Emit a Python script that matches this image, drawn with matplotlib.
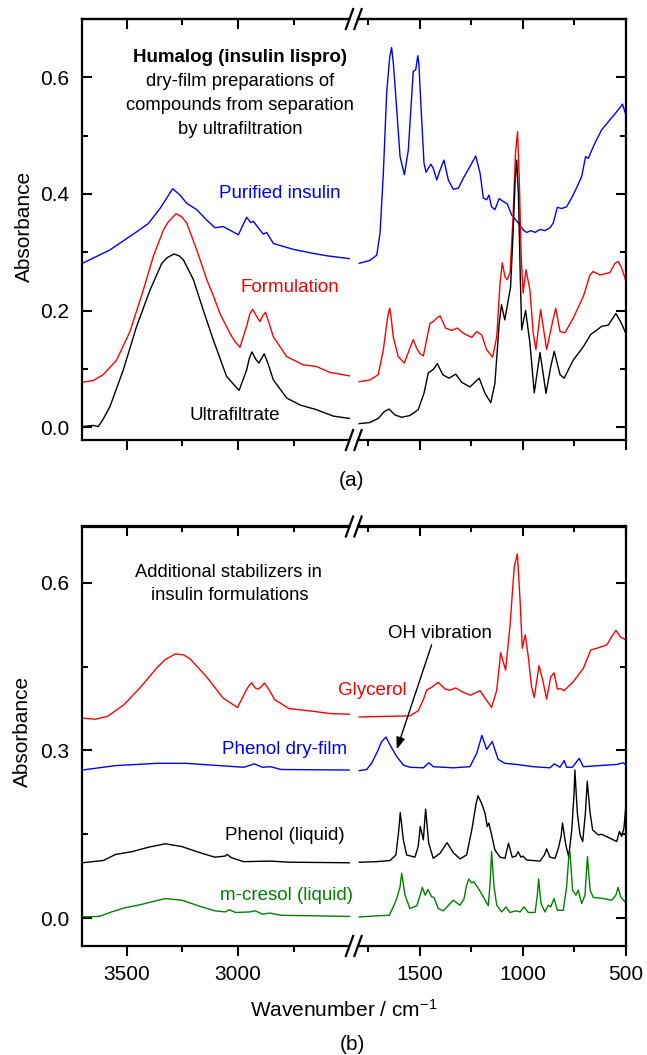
import matplotlib
matplotlib.use("Agg")
import matplotlib.pyplot as plt
from matplotlib.lines import Line2D
from matplotlib.ticker import FixedLocator, FormatStrFormatter, NullFormatter

plt.rcParams['font.family'] = ['Liberation Sans', 'DejaVu Sans']
plt.rcParams['mathtext.fontset'] = 'custom'
plt.rcParams['mathtext.rm'] = 'Liberation Sans'
plt.rcParams['mathtext.it'] = 'Liberation Sans:italic'
plt.rcParams['mathtext.bf'] = 'Liberation Sans:bold'

# ---------------- data: panel (a) ----------------
purified_hi_wn = [3700, 3651, 3576, 3456, 3404, 3351, 3294, 3261, 3231, 3186, 3141, 3104, 3067, 2999, 2962,
                  2944, 2932, 2887, 2872, 2842, 2753, 2663, 2603, 2500]
purified_hi_abs = [0.281, 0.290, 0.304, 0.335, 0.349, 0.375, 0.409, 0.398, 0.384, 0.373, 0.355, 0.342, 0.344,
                   0.330, 0.360, 0.351, 0.353, 0.331, 0.334, 0.315, 0.305, 0.298, 0.294, 0.289]
purified_lo_wn = [1794, 1742, 1709, 1693, 1677, 1661, 1646, 1637, 1628, 1612, 1596, 1575, 1556, 1532, 1520,
                  1510, 1505, 1496, 1480, 1470, 1459, 1447, 1435, 1418, 1402, 1383, 1362, 1338, 1313, 1289,
                  1257, 1229, 1208, 1192, 1176, 1165, 1152, 1136, 1115, 1095, 1076, 1055, 1022, 998, 982, 962,
                  941, 917, 893, 869, 853, 833, 812, 788, 764, 739, 715, 696, 683, 651, 618, 578, 538, 517, 500]
purified_lo_abs = [0.281, 0.286, 0.295, 0.333, 0.436, 0.573, 0.635, 0.651, 0.622, 0.544, 0.464, 0.433, 0.475,
                   0.610, 0.613, 0.637, 0.625, 0.561, 0.453, 0.437, 0.444, 0.451, 0.444, 0.424, 0.441, 0.458,
                   0.424, 0.408, 0.410, 0.427, 0.447, 0.465, 0.436, 0.393, 0.390, 0.398, 0.378, 0.373, 0.392,
                   0.387, 0.383, 0.364, 0.350, 0.338, 0.334, 0.337, 0.334, 0.339, 0.337, 0.342, 0.350, 0.377,
                   0.375, 0.378, 0.393, 0.411, 0.430, 0.464, 0.461, 0.487, 0.510, 0.527, 0.544, 0.554, 0.535]

formulation_hi_wn = [3700, 3651, 3606, 3546, 3486, 3426, 3381, 3336, 3314, 3279, 3254, 3231, 3186, 3141, 3110,
                     3082, 3037, 3015, 2992, 2962, 2947, 2935, 2917, 2902, 2890, 2877, 2861, 2842, 2782, 2708,
                     2648, 2588, 2500]
formulation_hi_abs = [0.077, 0.080, 0.090, 0.115, 0.164, 0.235, 0.293, 0.338, 0.352, 0.366, 0.361, 0.350, 0.304,
                      0.253, 0.224, 0.195, 0.161, 0.147, 0.137, 0.173, 0.195, 0.202, 0.190, 0.181, 0.191, 0.197,
                      0.178, 0.155, 0.121, 0.107, 0.104, 0.094, 0.088]
formulation_lo_wn = [1794, 1742, 1702, 1677, 1658, 1651, 1646, 1640, 1629, 1605, 1575, 1551, 1532, 1515, 1499,
                     1483, 1467, 1451, 1435, 1418, 1402, 1375, 1346, 1318, 1289, 1248, 1224, 1200, 1176, 1147,
                     1127, 1111, 1100, 1087, 1076, 1062, 1048, 1036, 1026, 1018, 1008, 999, 985, 966, 950, 937,
                     914, 885, 861, 841, 820, 796, 756, 707, 675, 659, 626, 578, 554, 538, 521, 500]
formulation_lo_abs = [0.078, 0.081, 0.090, 0.133, 0.184, 0.198, 0.204, 0.190, 0.155, 0.121, 0.110, 0.133, 0.150,
                      0.135, 0.126, 0.122, 0.150, 0.178, 0.181, 0.187, 0.191, 0.170, 0.166, 0.170, 0.161, 0.154,
                      0.164, 0.158, 0.133, 0.120, 0.155, 0.247, 0.282, 0.258, 0.253, 0.265, 0.360, 0.470, 0.507,
                      0.430, 0.290, 0.230, 0.270, 0.235, 0.161, 0.133, 0.202, 0.133, 0.173, 0.204, 0.164, 0.162,
                      0.187, 0.224, 0.261, 0.267, 0.261, 0.265, 0.281, 0.284, 0.273, 0.250]

ultrafiltrate_hi_wn = [3700, 3651, 3628, 3606, 3576, 3516, 3456, 3396, 3343, 3318, 3288, 3266, 3246, 3201, 3157,
                       3112, 3052, 2996, 2962, 2950, 2938, 2922, 2907, 2895, 2883, 2865, 2842, 2782, 2722, 2648,
                       2573, 2500]
ultrafiltrate_hi_abs = [0.001, 0.003, 0.001, 0.014, 0.035, 0.098, 0.173, 0.235, 0.281, 0.291, 0.297, 0.294,
                        0.287, 0.253, 0.201, 0.150, 0.087, 0.063, 0.098, 0.118, 0.129, 0.117, 0.110, 0.118,
                        0.126, 0.108, 0.081, 0.050, 0.038, 0.030, 0.019, 0.015]
ultrafiltrate_lo_wn = [1794, 1742, 1702, 1672, 1649, 1621, 1588, 1548, 1508, 1480, 1459, 1435, 1415, 1389, 1359,
                       1326, 1297, 1257, 1212, 1184, 1156, 1136, 1115, 1104, 1088, 1071, 1060, 1048, 1038, 1030,
                       1022, 1013, 1006, 987, 966, 945, 917, 888, 865, 848, 820, 800, 756, 707, 671, 651, 618,
                       586, 549, 522, 500]
ultrafiltrate_lo_abs = [0.006, 0.008, 0.015, 0.027, 0.031, 0.021, 0.017, 0.020, 0.030, 0.058, 0.093, 0.099,
                        0.109, 0.090, 0.084, 0.091, 0.077, 0.069, 0.084, 0.058, 0.042, 0.075, 0.178, 0.210,
                        0.184, 0.218, 0.240, 0.330, 0.420, 0.458, 0.400, 0.260, 0.167, 0.200, 0.144, 0.059,
                        0.128, 0.058, 0.104, 0.130, 0.090, 0.084, 0.115, 0.138, 0.159, 0.164, 0.173, 0.175,
                        0.195, 0.178, 0.160]

# ---------------- data: panel (b) ----------------
glycerol_hi_wn = [3700, 3643, 3587, 3513, 3439, 3365, 3327, 3281, 3244, 3216, 3142, 3068, 3003, 2965, 2950,
                  2938, 2924, 2910, 2896, 2882, 2860, 2836, 2771, 2660, 2585, 2500]
glycerol_hi_abs = [0.358, 0.356, 0.361, 0.382, 0.413, 0.448, 0.463, 0.473, 0.471, 0.464, 0.432, 0.394, 0.377,
                   0.407, 0.417, 0.421, 0.412, 0.410, 0.414, 0.421, 0.408, 0.391, 0.375, 0.370, 0.366, 0.365]
glycerol_lo_wn = [1794, 1677, 1548, 1508, 1483, 1467, 1443, 1411, 1378, 1354, 1326, 1289, 1254, 1208, 1184,
                  1152, 1127, 1108, 1084, 1063, 1042, 1027, 1014, 1003, 989, 974, 958, 945, 922, 904, 885,
                  865, 849, 833, 817, 801, 756, 707, 671, 642, 593, 569, 549, 526, 500]
glycerol_lo_abs = [0.360, 0.361, 0.362, 0.371, 0.391, 0.408, 0.413, 0.422, 0.410, 0.408, 0.412, 0.404, 0.399,
                   0.407, 0.394, 0.377, 0.408, 0.475, 0.444, 0.522, 0.629, 0.652, 0.570, 0.483, 0.507, 0.468,
                   0.414, 0.395, 0.452, 0.426, 0.392, 0.432, 0.439, 0.410, 0.411, 0.407, 0.423, 0.447, 0.480,
                   0.483, 0.489, 0.504, 0.515, 0.503, 0.498]

phenol_film_hi_wn = [3700, 3550, 3365, 3234, 3086, 2975, 2928, 2891, 2854, 2808, 2500]
phenol_film_hi_abs = [0.265, 0.273, 0.277, 0.277, 0.273, 0.270, 0.276, 0.270, 0.271, 0.266, 0.265]
phenol_film_lo_wn = [1794, 1758, 1734, 1706, 1685, 1664, 1645, 1612, 1580, 1548, 1483, 1456, 1435, 1338, 1257,
                     1224, 1199, 1176, 1149, 1120, 1087, 1030, 950, 869, 848, 820, 800, 788, 760, 727, 707,
                     626, 545, 513, 500]
phenol_film_lo_abs = [0.264, 0.266, 0.277, 0.298, 0.316, 0.324, 0.310, 0.289, 0.274, 0.270, 0.269, 0.278, 0.271,
                      0.269, 0.271, 0.295, 0.327, 0.302, 0.316, 0.284, 0.277, 0.275, 0.271, 0.269, 0.276, 0.270,
                      0.282, 0.270, 0.270, 0.286, 0.271, 0.273, 0.275, 0.278, 0.274]

phenol_liq_hi_wn = [3700, 3606, 3550, 3476, 3401, 3327, 3253, 3179, 3105, 3058, 3049, 3030, 2975, 2854, 2771, 2500]
phenol_liq_hi_abs = [0.099, 0.103, 0.114, 0.119, 0.127, 0.133, 0.128, 0.118, 0.109, 0.111, 0.114, 0.108, 0.101,
                     0.102, 0.100, 0.099]
phenol_liq_lo_wn = [1794, 1709, 1645, 1616, 1602, 1595, 1580, 1564, 1524, 1508, 1498, 1483, 1472, 1457, 1435,
                    1402, 1368, 1338, 1305, 1273, 1248, 1227, 1218, 1200, 1184, 1173, 1165, 1152, 1136, 1111,
                    1087, 1070, 1052, 1034, 1023, 1010, 1000, 982, 917, 896, 885, 869, 844, 828, 815, 808, 792,
                    778, 763, 752, 748, 736, 723, 710, 697, 688, 674, 662, 635, 618, 578, 545, 532, 521, 510, 500]
phenol_liq_lo_abs = [0.100, 0.101, 0.103, 0.113, 0.158, 0.189, 0.140, 0.113, 0.109, 0.128, 0.164, 0.140, 0.195,
                     0.134, 0.107, 0.116, 0.135, 0.117, 0.106, 0.113, 0.158, 0.205, 0.219, 0.205, 0.188, 0.164,
                     0.170, 0.149, 0.122, 0.109, 0.107, 0.134, 0.109, 0.111, 0.119, 0.109, 0.111, 0.104, 0.102,
                     0.113, 0.124, 0.109, 0.107, 0.125, 0.146, 0.170, 0.131, 0.110, 0.158, 0.223, 0.265, 0.188,
                     0.149, 0.137, 0.188, 0.245, 0.188, 0.158, 0.149, 0.150, 0.143, 0.137, 0.155, 0.146, 0.161,
                     0.204]

cresol_hi_wn = [3700, 3624, 3568, 3513, 3439, 3327, 3253, 3179, 3105, 3058, 3040, 3012, 2947, 2923, 2891, 2858,
                2808, 2500]
cresol_hi_abs = [0.002, 0.003, 0.011, 0.018, 0.024, 0.035, 0.032, 0.022, 0.013, 0.011, 0.015, 0.010, 0.011,
                 0.013, 0.007, 0.009, 0.005, 0.003]
cresol_lo_wn = [1794, 1709, 1648, 1629, 1612, 1596, 1588, 1572, 1548, 1515, 1496, 1488, 1474, 1460, 1443, 1431,
                1411, 1386, 1338, 1305, 1286, 1273, 1262, 1250, 1239, 1216, 1192, 1168, 1158, 1152, 1140, 1127,
                1103, 1082, 1063, 1034, 1014, 995, 974, 941, 930, 924, 912, 893, 877, 865, 849, 833, 804, 788,
                778, 772, 759, 743, 732, 715, 699, 687, 674, 659, 610, 569, 549, 538, 526, 500]
cresol_lo_abs = [0.002, 0.004, 0.005, 0.020, 0.035, 0.056, 0.080, 0.041, 0.017, 0.022, 0.044, 0.055, 0.041,
                 0.051, 0.038, 0.037, 0.017, 0.013, 0.032, 0.023, 0.034, 0.059, 0.070, 0.063, 0.065, 0.053,
                 0.038, 0.022, 0.068, 0.119, 0.056, 0.023, 0.011, 0.020, 0.010, 0.013, 0.011, 0.020, 0.010,
                 0.010, 0.041, 0.070, 0.026, 0.011, 0.023, 0.020, 0.035, 0.014, 0.014, 0.056, 0.107, 0.119,
                 0.050, 0.041, 0.050, 0.026, 0.041, 0.110, 0.050, 0.037, 0.035, 0.032, 0.041, 0.055, 0.038,
                 0.027]

# axis ticks
hi_major = [3500, 3000]
hi_minor = [3250, 2750]
lo_major = [1500, 1000, 500]
lo_minor = [1750, 1250, 750]
a_yticks = [0.0, 0.2, 0.4, 0.6]
a_yminor = [0.1, 0.3, 0.5]
b_yticks = [0.0, 0.3, 0.6]
b_yminor = [0.15, 0.45]

# ---------------- figure ----------------
W, H = 647, 1055
fig = plt.figure(figsize=(W / 100, H / 100), dpi=100)


def fx(px):
    return px / W


def fy(py):
    return 1 - py / H


XL0, XL1, XR0, XR1 = 82.3, 349.5, 358.0, 626.0
SPINE_LW = 1.6
LINE_LW = 1.0
TICK_FS = 15


def make_panel(top_px, bottom_px, ylim, ymaj, ymin, xlabels):
    y0 = fy(bottom_px)
    h = (bottom_px - top_px) / H
    axL = fig.add_axes([fx(XL0), y0, fx(XL1) - fx(XL0), h])
    axR = fig.add_axes([fx(XR0), y0, fx(XR1) - fx(XR0), h])
    for ax, lim, maj, mnr in ((axL, (3700, 2500), hi_major, hi_minor),
                              (axR, (1800, 500), lo_major, lo_minor)):
        ax.set_xlim(*lim)
        ax.set_ylim(*ylim)
        for s in ax.spines.values():
            s.set_linewidth(SPINE_LW)
        ax.xaxis.set_major_locator(FixedLocator(maj))
        ax.xaxis.set_minor_locator(FixedLocator(mnr))
        ax.tick_params(axis='x', which='both', direction='out', top=False, bottom=True,
                       labelsize=TICK_FS, pad=6, width=1.5, labelbottom=xlabels)
        ax.tick_params(axis='x', which='major', length=7.5)
        ax.tick_params(axis='x', which='minor', length=4)
        if not xlabels:
            ax.xaxis.set_major_formatter(NullFormatter())
        sec = ax.secondary_xaxis('top')
        sec.xaxis.set_major_locator(FixedLocator(maj))
        sec.xaxis.set_minor_locator(FixedLocator(mnr))
        sec.xaxis.set_major_formatter(NullFormatter())
        sec.tick_params(axis='x', which='both', direction='in', width=1.5)
        sec.tick_params(axis='x', which='major', length=7.5)
        sec.tick_params(axis='x', which='minor', length=4)
        sec.spines['top'].set_linewidth(SPINE_LW)
        ax.yaxis.set_major_locator(FixedLocator(ymaj))
        ax.yaxis.set_minor_locator(FixedLocator(ymin))
    axL.spines['right'].set_visible(False)
    axR.spines['left'].set_visible(False)
    axL.tick_params(axis='y', which='both', direction='in', left=True, right=False,
                    labelsize=TICK_FS, pad=9.5, width=1.5)
    axL.tick_params(axis='y', which='major', length=7.5)
    axL.tick_params(axis='y', which='minor', length=4)
    axL.yaxis.set_major_formatter(FormatStrFormatter('%.1f'))
    axR.tick_params(axis='y', which='both', direction='in', left=False, right=True,
                    labelleft=False, width=1.5)
    axR.tick_params(axis='y', which='major', length=7.5)
    axR.tick_params(axis='y', which='minor', length=4)
    # break marks
    for ypx in (top_px, bottom_px):
        for cx in (XL1, XR0):
            fig.add_artist(Line2D([fx(cx - 4), fx(cx + 4)], [fy(ypx + 11), fy(ypx - 11)],
                                  transform=fig.transFigure, color='black', lw=1.6,
                                  solid_capstyle='butt'))
    return axL, axR


PLOT_KW = dict(lw=LINE_LW, solid_joinstyle='round')

# panel (a)
aL, aR = make_panel(19, 440, (-0.022, 0.70), a_yticks, a_yminor, False)
aL.plot(purified_hi_wn, purified_hi_abs, color='#0000ff', **PLOT_KW)
aR.plot(purified_lo_wn, purified_lo_abs, color='#0000ff', **PLOT_KW)
aL.plot(formulation_hi_wn, formulation_hi_abs, color='#ff0000', **PLOT_KW)
aR.plot(formulation_lo_wn, formulation_lo_abs, color='#ff0000', **PLOT_KW)
aL.plot(ultrafiltrate_hi_wn, ultrafiltrate_hi_abs, color='black', **PLOT_KW)
aR.plot(ultrafiltrate_lo_wn, ultrafiltrate_lo_abs, color='black', **PLOT_KW)

# panel (b)
bL, bR = make_panel(526.5, 946, (-0.05, 0.701), b_yticks, b_yminor, True)
bL.plot(glycerol_hi_wn, glycerol_hi_abs, color='#ff0000', **PLOT_KW)
bR.plot(glycerol_lo_wn, glycerol_lo_abs, color='#ff0000', **PLOT_KW)
bL.plot(phenol_film_hi_wn, phenol_film_hi_abs, color='#0000ff', **PLOT_KW)
bR.plot(phenol_film_lo_wn, phenol_film_lo_abs, color='#0000ff', **PLOT_KW)
bL.plot(phenol_liq_hi_wn, phenol_liq_hi_abs, color='black', **PLOT_KW)
bR.plot(phenol_liq_lo_wn, phenol_liq_lo_abs, color='black', **PLOT_KW)
bL.plot(cresol_hi_wn, cresol_hi_abs, color='#008000', **PLOT_KW)
bR.plot(cresol_lo_wn, cresol_lo_abs, color='#008000', **PLOT_KW)

bR.annotate('', xy=(1612, 0.302), xytext=(1443, 0.489),
            arrowprops=dict(arrowstyle='-|>,head_length=0.6,head_width=0.22', color='black',
                            lw=1.0, mutation_scale=12, shrinkA=0, shrinkB=0))


def ftext(x, y, s, **kw):
    kw.setdefault('ha', 'center')
    kw.setdefault('va', 'center')
    fig.text(fx(x), fy(y), s, **kw)


LAB_FS = 13.5
PAR_FS = 13.2
ftext(240, 58, 'Humalog (insulin lispro)', fontsize=LAB_FS, fontweight='bold')
ftext(240, 82, 'dry-film preparations of', fontsize=PAR_FS)
ftext(240, 106, 'compounds from separation', fontsize=PAR_FS)
ftext(240, 129, 'by ultrafiltration', fontsize=PAR_FS)
ftext(279.5, 194, 'Purified insulin', fontsize=LAB_FS, color='#0000ff')
ftext(290, 287, 'Formulation', fontsize=LAB_FS, color='#ff0000')
ftext(234.5, 415.7, 'Ultrafiltrate', fontsize=LAB_FS, color='black')
ftext(352, 480, '(a)', fontsize=15)
ftext(24, 226, 'Absorbance', fontsize=15, rotation=90)

ftext(228, 572.4, 'Additional stabilizers in', fontsize=PAR_FS)
ftext(229.5, 595.4, 'insulin formulations', fontsize=PAR_FS)
ftext(440, 634, 'OH vibration', fontsize=LAB_FS)
ftext(372, 690.8, 'Glycerol', fontsize=LAB_FS, color='#ff0000')
ftext(285, 749, 'Phenol dry-film', fontsize=LAB_FS, color='#0000ff')
ftext(284.5, 835.7, 'Phenol (liquid)', fontsize=LAB_FS, color='black')
ftext(286.5, 895.8, 'm-cresol (liquid)', fontsize=LAB_FS, color='#008000')
ftext(344, 1010, 'Wavenumber / cm$^{-1}$', fontsize=15)
ftext(352, 1045, '(b)', fontsize=15)
ftext(22, 731, 'Absorbance', fontsize=15, rotation=90)

fig.savefig('out.png', dpi=100)
